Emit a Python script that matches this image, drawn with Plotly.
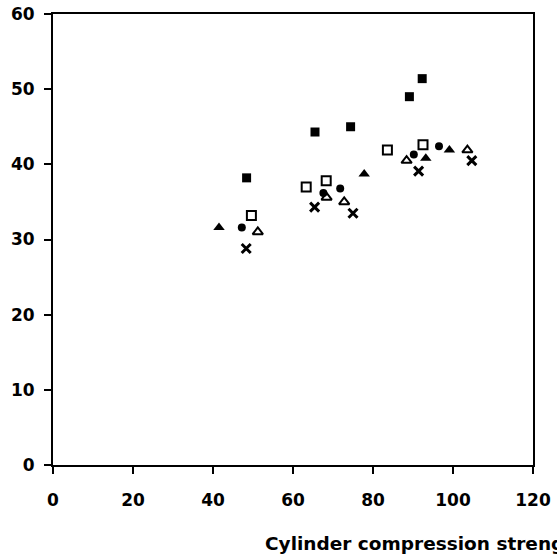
import plotly.graph_objects as go

# Data (x: cylinder compression strength, y: value)
sq_filled_x = [48.4, 65.5, 74.4, 89.1, 92.3]
sq_filled_y = [38.2, 44.3, 45.0, 49.0, 51.4]

sq_open_x = [49.6, 63.3, 68.3, 83.6, 92.5]
sq_open_y = [33.2, 37.0, 37.8, 41.9, 42.6]

circ_x = [47.2, 67.6, 71.8, 90.2, 96.5]
circ_y = [31.6, 36.2, 36.8, 41.3, 42.4]

tri_filled_x = [41.5, 77.8, 93.2, 99.1]
tri_filled_y = [31.6, 38.7, 40.8, 41.9]

tri_open_x = [51.2, 68.4, 72.8, 88.4, 103.6]
tri_open_y = [31.0, 35.6, 35.0, 40.5, 41.9]

cross_x = [48.3, 65.4, 75.0, 91.4, 104.7]
cross_y = [28.8, 34.3, 33.5, 39.1, 40.5]

x_ticks = [0, 20, 40, 60, 80, 100, 120]
y_ticks = [0, 10, 20, 30, 40, 50, 60]
x_title = "Cylinder compression strength (MPa)"

fig = go.Figure()

def add(xs, ys, symbol, size=9, lw=0):
    fig.add_trace(go.Scatter(
        x=xs, y=ys, mode="markers",
        marker=dict(symbol=symbol, size=size, color="black",
                    line=dict(color="black", width=lw)),
        showlegend=False, cliponaxis=False))

add(sq_filled_x, sq_filled_y, "square", 9)
add(sq_open_x, sq_open_y, "square-open", 9, 2)
add(circ_x, circ_y, "circle", 8)
add(tri_filled_x, tri_filled_y, "triangle-up", 10)
add(tri_open_x, tri_open_y, "triangle-up-open", 9, 2)
add(cross_x, cross_y, "x-thin-open", 9, 3)

fam = "DejaVu Sans, sans-serif"
tfont = dict(family=fam, size=17, color="black")

axis_common = dict(showgrid=False, zeroline=False, showline=True, linecolor="black",
                   linewidth=2, mirror=True, ticks="outside", ticklen=7, tickwidth=2,
                   tickcolor="black", tickfont=tfont, automargin=False)

fig.update_layout(
    width=557, height=556,
    margin=dict(l=53, r=24, t=14, b=91, autoexpand=False),
    plot_bgcolor="white", paper_bgcolor="white",
    font=tfont,
    xaxis=dict(range=[0, 120], tickvals=x_ticks, ticktext=[f"<b>{v}</b>" for v in x_ticks],
               ticklabelstandoff=12, **axis_common),
    yaxis=dict(range=[0, 60], tickvals=y_ticks, ticktext=[f"<b>{v}</b>" for v in y_ticks],
               ticklabelstandoff=6, **axis_common),
    annotations=[dict(text=f"<b>{x_title}</b>", xref="paper", yref="paper",
                      x=0.437, y=-0.175, xanchor="left", yanchor="middle",
                      showarrow=False,
                      font=dict(family=fam, size=18.5, color="black"))],
)

fig.write_html("out.html", config={"displayModeBar": False},
               post_script="document.body.style.margin='0';")
